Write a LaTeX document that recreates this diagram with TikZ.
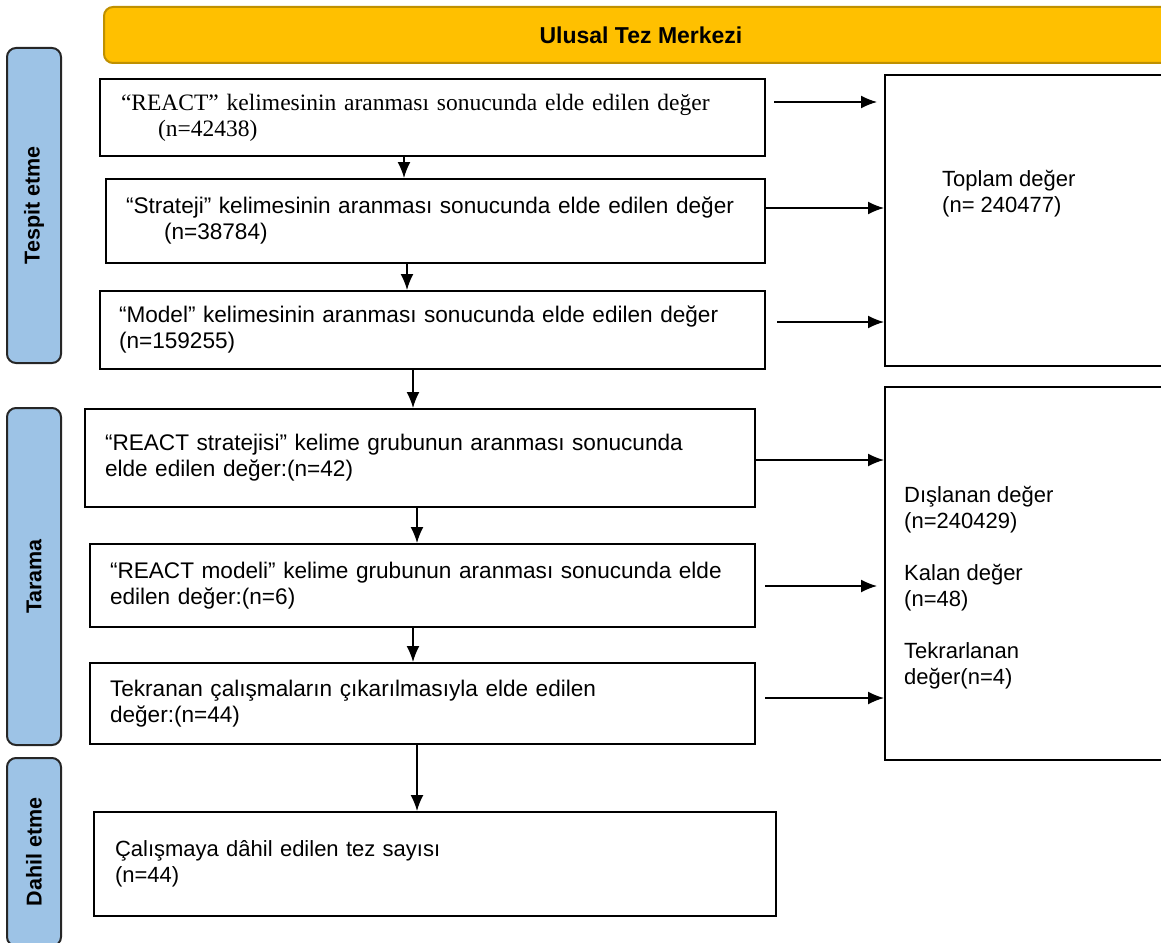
\documentclass[tikz,border=0pt]{standalone}
\usepackage{fontspec}
\setmainfont{Liberation Sans}
\newfontfamily\timesfont{Liberation Serif}
\usetikzlibrary{arrows.meta,calc}
\definecolor{barfill}{HTML}{FFC000}
\definecolor{bardraw}{HTML}{BF9000}
\definecolor{sidefill}{HTML}{9DC3E6}

\begin{document}
\begin{tikzpicture}[x=1pt, y=-1pt]
\tikzset{ >={Latex[length=16pt,width=13pt]},
  stepbox/.style={draw, line width=2pt, anchor=north west, align=left, inner ysep=0pt, font=\fontsize{22.6}{26}\selectfont},
  sidebox/.style={draw=black!85, fill=sidefill, line width=2pt, rounded corners=9pt, rotate=90, minimum height=54pt, font=\fontsize{21.5}{26}\selectfont\bfseries},
  plaintext/.style={anchor=north west, align=left, inner sep=0pt, font=\fontsize{22}{26}\selectfont},
  arrowline/.style={->, line width=1.5pt},
}

\useasboundingbox (0,0) rectangle (1161,942);
\clip (0,0) rectangle (1161,942);

%\draw [lightgray, dashed] (0,0) grid [step=50] (1161,942);

\node [draw=bardraw, fill=barfill, line width=2pt, rounded corners=9pt, anchor=north west,
       minimum width=1074pt, minimum height=56pt, font=\fontsize{23}{26}\selectfont\bfseries] (merkez) at (103,6) {Ulusal Tez Merkezi};

\node [sidebox, minimum width=315pt] (tespit) at (34,205.5) {Tespit etme};
\node [sidebox, minimum width=337pt] (tarama) at (34,576.5) {Tarama};
\node [sidebox, minimum width=188pt] (dahil)  at (34,852)   {Dahil etme};

\node [stepbox, minimum width=665pt, minimum height=77pt,  inner xsep=21pt, text width=623pt, font=\fontsize{23.5}{26}\timesfont] (b1) at (99,78)
  {“REACT” kelimesinin aranması sonucunda elde edilen değer\\\hspace*{37pt}(n=42438)};
\node [stepbox, minimum width=659pt, minimum height=84pt,  inner xsep=20pt, text width=619pt] (b2) at (105,178)
  {“Strateji” kelimesinin aranması sonucunda elde edilen değer\\\hspace*{38pt}(n=38784)};
\node [stepbox, minimum width=665pt, minimum height=78pt,  inner xsep=19pt, text width=627pt] (b3) at (99,290)
  {“Model” kelimesinin aranması sonucunda elde edilen değer\\(n=159255)};
\node [stepbox, minimum width=670pt, minimum height=98pt,  inner xsep=20pt, text width=630pt] (b4) at (84,408)
  {“REACT stratejisi” kelime grubunun aranması sonucunda\\elde edilen değer:(n=42)};
\node [stepbox, minimum width=665pt, minimum height=83pt,  inner xsep=20pt, text width=625pt] (b5) at (89,543)
  {“REACT modeli” kelime grubunun aranması sonucunda elde\\edilen değer:(n=6)};
\node [stepbox, minimum width=665pt, minimum height=81pt,  inner xsep=20pt, text width=625pt] (b6) at (89,662)
  {Tekranan çalışmaların çıkarılmasıyla elde edilen\\değer:(n=44)};
\node [stepbox, minimum width=682pt, minimum height=104pt, inner xsep=21pt, text width=640pt, font=\fontsize{22}{26}\selectfont] (b7) at (93,811)
  {Çalışmaya dâhil edilen tez sayısı\\(n=44)};

\node [stepbox, minimum width=296pt, minimum height=291pt] (toplam) at (884,74) {};
\node [stepbox, minimum width=296pt, minimum height=373pt] (elenen) at (884,386) {};

\node [plaintext] (toplamtxt) at (942,170) {Toplam değer\\(n= 240477)};
\node [plaintext] (elenentxt) at (904,486)
  {Dışlanan değer\\(n=240429)\\[26pt]Kalan değer\\(n=48)\\[26pt]Tekrarlanan\\değer(n=4)};

\draw [arrowline] (b1.south -| 404,0) -- (b2.north -| 404,0);
\draw [arrowline] (b2.south -| 407,0) -- (b3.north -| 407,0);
\draw [arrowline] (b3.south -| 413,0) -- (b4.north -| 413,0);
\draw [arrowline] (b4.south -| 417,0) -- (b5.north -| 417,0);
\draw [arrowline] (b5.south -| 413,0) -- (b6.north -| 413,0);
\draw [arrowline] (b6.south -| 417,0) -- (b7.north -| 417,0);

\draw [arrowline] ($(b1.east |- 0,102)+(8,0)$)  -- ($(toplam.west |- 0,102)+(-7,0)$);
\draw [arrowline] (b2.east |- 0,208)            -- (toplam.west |- 0,208);
\draw [arrowline] ($(b3.east |- 0,322)+(11,0)$) -- (toplam.west |- 0,322);
\draw [arrowline] (b4.east |- 0,460)            -- (elenen.west |- 0,460);
\draw [arrowline] ($(b5.east |- 0,586)+(9,0)$)  -- ($(elenen.west |- 0,586)+(-7,0)$);
\draw [arrowline] ($(b6.east |- 0,698)+(9,0)$)  -- (elenen.west |- 0,698);
\end{tikzpicture}
\end{document}
